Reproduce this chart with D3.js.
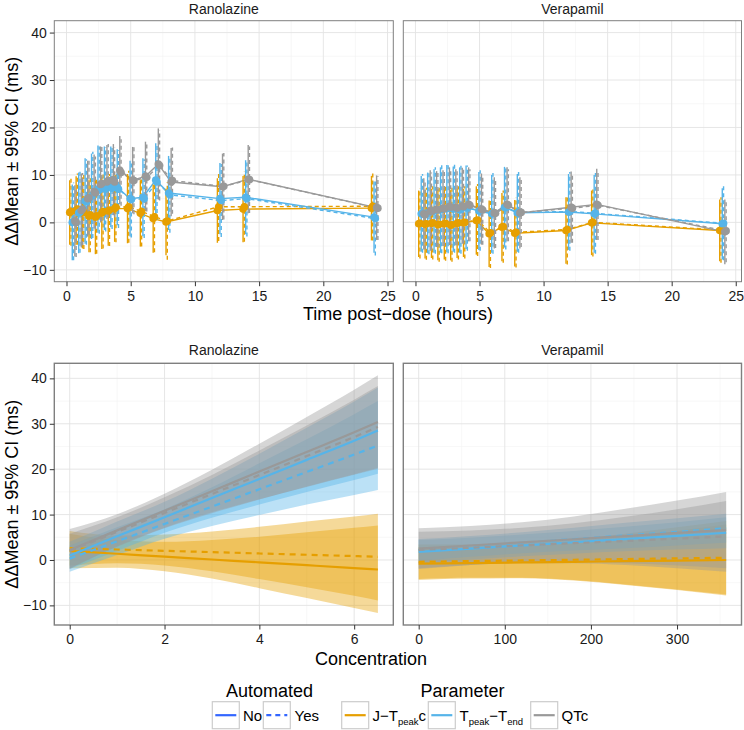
<!DOCTYPE html>
<html><head><meta charset="utf-8">
<script src="https://cdn.jsdelivr.net/npm/d3@7"></script>
<style>body{margin:0;background:#fff} svg text{font-family:"Liberation Sans",Arial,Helvetica,sans-serif}</style>
</head><body><svg id="c" width="744" height="730"></svg>
<script>
// ---------- DATA ----------
const drugs = ["Ranolazine", "Verapamil"];
const params = ["J-Tpeakc", "Tpeak-Tend", "QTc"];
const automatedLevels = ["No", "Yes"];
const paramColors = ["#E69F00", "#56B4E9", "#999999"];
const automatedColor = "#3366FF";
const times = [0.5, 1, 1.5, 2, 2.5, 3, 3.5, 4, 5, 6, 7, 8, 12, 14, 24];
const timeTicks = [0, 5, 10, 15, 20, 25];
const yTicks = [-10, 0, 10, 20, 30, 40];
const topYLimits = [-10, 40];
const concTicksRan = [0, 2, 4, 6];
const concTicksVer = [0, 100, 200, 300];

// time course: mean and 95% CI half-width (ms)
const ranJNoMean   = [2.1, 2.5, 2.0, 1.3, 1.1, 2.0, 2.4, 2.9, 2.9, 1.9, 0.8, 0.1, 2.5, 2.8, 3.0];
const ranJNoCI     = [6.8, 7.2, 7.5, 7.6, 7.8, 7.6, 7.3, 7.0, 7.3, 7.0, 7.2, 7.0, 6.8, 7.0, 6.8];
const ranJYesMean  = [2.3, 2.8, 2.2, 1.6, 1.4, 2.3, 2.6, 3.2, 3.3, 2.3, 1.2, 0.3, 3.3, 3.3, 3.4];
const ranJYesCI    = [7.2, 7.5, 7.8, 7.9, 8.0, 7.8, 7.6, 7.4, 7.6, 7.4, 7.5, 8.2, 7.2, 7.4, 7.2];
const ranTpNoMean  = [0.0, 2.0, 4.5, 5.5, 7.0, 7.2, 7.5, 7.4, 5.0, 5.3, 8.9, 6.2, 5.0, 5.3, 1.1];
const ranTpNoCI    = [8.0, 8.5, 9.0, 9.0, 9.2, 8.8, 8.5, 8.0, 8.0, 8.2, 7.8, 7.8, 7.5, 7.8, 7.5];
const ranTpYesMean = [0.2, 2.2, 4.3, 5.8, 6.8, 7.0, 7.2, 7.0, 4.8, 5.0, 8.5, 5.8, 4.6, 5.0, 0.8];
const ranTpYesCI   = [8.2, 8.6, 9.0, 9.1, 9.2, 8.9, 8.6, 8.2, 8.0, 8.3, 8.0, 8.0, 7.7, 8.0, 7.8];
const ranQTcNoMean = [0.3, 2.5, 5.0, 6.5, 8.0, 8.5, 9.0, 11.0, 8.9, 9.7, 12.3, 8.5, 7.5, 9.1, 3.1];
const ranQTcNoCI   = [7.5, 7.8, 8.0, 7.8, 8.0, 7.8, 7.5, 7.2, 7.0, 7.3, 7.5, 7.2, 7.0, 7.2, 6.8];
const ranQTcYesMean= [0.0, 2.8, 5.2, 6.2, 8.2, 8.8, 8.5, 10.5, 8.8, 9.5, 12.0, 8.8, 7.6, 9.0, 3.0];
const ranQTcYesCI  = [7.3, 7.6, 7.8, 7.7, 7.9, 7.7, 7.4, 7.0, 7.1, 7.2, 7.4, 7.0, 7.0, 7.0, 6.7];

const verJNoMean   = [-0.3, -0.4, -0.2, -0.5, -0.3, -0.6, -0.2, -0.1, 0.4, -2.4, -1.0, -2.3, -1.7, -0.1, -1.7];
const verJNoCI     = [7.0, 7.2, 7.3, 7.5, 7.5, 7.4, 7.3, 7.2, 7.2, 7.0, 7.2, 7.0, 7.0, 6.8, 6.5];
const verJYesMean  = [-0.2, -0.3, -0.1, -0.4, -0.2, -0.5, -0.1, 0.0, 0.5, -2.2, -0.9, -2.1, -1.5, 0.0, -1.6];
const verJYesCI    = [7.4, 7.6, 7.7, 7.9, 7.9, 7.8, 7.7, 7.6, 7.6, 7.4, 7.6, 7.4, 7.4, 7.2, 6.9];
const verTpNoMean  = [1.8, 2.0, 2.4, 2.6, 2.9, 2.8, 2.6, 3.2, 2.4, 1.8, 3.2, 2.0, 2.2, 1.8, -0.3];
const verTpNoCI    = [8.0, 8.5, 8.8, 9.0, 9.2, 9.0, 9.0, 8.8, 8.2, 8.2, 8.5, 8.2, 8.0, 8.2, 7.5];
const verTpYesMean = [1.9, 2.1, 2.5, 2.8, 3.0, 2.9, 2.7, 3.0, 2.5, 1.9, 3.1, 2.1, 2.3, 1.9, -0.2];
const verTpYesCI   = [8.3, 8.8, 9.1, 9.3, 9.5, 9.3, 9.3, 9.0, 8.5, 8.5, 8.8, 8.5, 8.3, 8.5, 7.8];
const verQTcNoMean = [1.8, 2.5, 2.8, 3.0, 3.4, 3.2, 3.5, 3.8, 2.8, 2.0, 3.8, 2.0, 3.2, 3.8, -2.0];
const verQTcNoCI   = [7.5, 8.5, 8.0, 8.0, 8.2, 8.0, 8.0, 7.8, 7.5, 7.5, 7.8, 7.5, 7.5, 7.5, 6.8];
const verQTcYesMean= [1.6, 2.3, 2.6, 2.8, 3.2, 3.0, 3.3, 3.6, 2.6, 1.9, 3.6, 2.1, 3.0, 3.6, -1.8];
const verQTcYesCI  = [7.3, 8.2, 7.8, 7.8, 8.0, 7.8, 7.8, 7.6, 7.3, 7.3, 7.6, 7.3, 7.3, 7.3, 6.6];

// concentration-response fits with 95% CI bands
const concRan = [0, 1, 2, 3, 4, 5, 6, 6.5];
const ranJNoFit   = [2.0, 1.37, 0.74, 0.11, -0.52, -1.15, -1.78, -2.1];
const ranJNoLo    = [-1.8, -1.7, -2.5, -4.1, -6.2, -8.4, -10.6, -11.7];
const ranJNoHi    = [5.8, 4.4, 4.0, 4.4, 5.1, 6.1, 7.1, 7.6];
const ranJYesFit  = [2.6, 2.31, 2.02, 1.73, 1.44, 1.15, 0.86, 0.7];
const ranJYesLo   = [-1.2, -0.7, -1.2, -2.5, -4.2, -6.0, -7.9, -8.9];
const ranJYesHi   = [6.4, 5.4, 5.6, 6.3, 7.3, 8.5, 9.6, 10.2];
const ranTpNoFit  = [1.0, 5.21, 9.42, 13.63, 17.84, 22.05, 26.26, 28.5];
const ranTpNoLo   = [-2.0, 2.0, 6.0, 9.3, 12.2, 15.0, 17.6, 19.0];
const ranTpNoHi   = [4.0, 8.5, 12.8, 17.9, 23.4, 29.1, 34.9, 38.0];
const ranTpYesFit = [0.3, 4.12, 7.94, 11.76, 15.58, 19.4, 23.22, 25.2];
const ranTpYesLo  = [-2.6, 1.1, 4.7, 7.5, 9.9, 12.2, 14.3, 15.4];
const ranTpYesHi  = [3.2, 7.2, 11.2, 16.0, 21.3, 26.6, 32.1, 35.0];
const ranQTcNoFit = [2.2, 6.52, 10.84, 15.16, 19.48, 23.8, 28.12, 30.4];
const ranQTcNoLo  = [-2.0, 3.0, 7.1, 10.5, 13.4, 16.1, 18.8, 20.1];
const ranQTcNoHi  = [6.8, 10.1, 14.6, 19.9, 25.6, 31.5, 37.5, 40.7];
const ranQTcYesFit= [2.0, 6.18, 10.36, 14.54, 18.72, 22.9, 27.08, 29.3];
const ranQTcYesLo = [-1.8, 2.9, 7.0, 10.3, 13.3, 16.2, 18.9, 20.3];
const ranQTcYesHi = [5.8, 9.4, 13.8, 18.7, 24.1, 29.6, 35.3, 38.3];

const concVer = [0, 60, 120, 180, 240, 300, 357];
const verJNoFit   = [-0.8, -0.67, -0.53, -0.4, -0.26, -0.13, 0.0];
const verJNoLo    = [-4.4, -4.1, -4.0, -4.5, -5.5, -6.6, -7.8];
const verJNoHi    = [2.8, 2.7, 3.0, 3.7, 4.9, 6.4, 7.8];
const verJYesFit  = [-0.4, -0.25, -0.1, 0.05, 0.2, 0.35, 0.5];
const verJYesLo   = [-4.2, -3.9, -3.9, -4.4, -5.4, -6.5, -7.6];
const verJYesHi   = [3.4, 3.4, 3.7, 4.5, 5.8, 7.2, 8.6];
const verTpNoFit  = [1.8, 2.5, 3.2, 3.9, 4.6, 5.3, 6.0];
const verTpNoLo   = [-0.8, 0.1, 0.8, 1.4, 1.9, 2.3, 2.6];
const verTpNoHi   = [4.4, 4.9, 5.6, 6.4, 7.3, 8.3, 9.4];
const verTpYesFit = [2.2, 3.0, 3.8, 4.6, 5.4, 6.2, 7.0];
const verTpYesLo  = [-0.2, 0.7, 1.5, 2.1, 2.6, 3.2, 3.8];
const verTpYesHi  = [4.6, 5.3, 6.1, 7.1, 8.2, 9.2, 10.2];
const verQTcNoFit = [2.5, 3.19, 3.88, 4.57, 5.26, 5.95, 6.6];
const verQTcNoLo  = [-2.0, -1.1, -0.5, -0.4, -0.7, -1.2, -1.8];
const verQTcNoHi  = [7.0, 7.5, 8.3, 9.6, 11.3, 13.1, 15.0];
const verQTcYesFit= [2.2, 2.7, 3.2, 3.7, 4.2, 4.7, 5.2];
const verQTcYesLo = [-1.8, -1.1, -0.7, -0.7, -1.1, -1.8, -2.6];
const verQTcYesHi = [6.2, 6.5, 7.1, 8.1, 9.5, 11.2, 13.0];

// ---------- assemble ----------
const timeSeries = [
  [ // Ranolazine
    {p:0,a:0,m:ranJNoMean,ci:ranJNoCI},{p:0,a:1,m:ranJYesMean,ci:ranJYesCI},
    {p:1,a:0,m:ranTpNoMean,ci:ranTpNoCI},{p:1,a:1,m:ranTpYesMean,ci:ranTpYesCI},
    {p:2,a:0,m:ranQTcNoMean,ci:ranQTcNoCI},{p:2,a:1,m:ranQTcYesMean,ci:ranQTcYesCI}],
  [ // Verapamil
    {p:0,a:0,m:verJNoMean,ci:verJNoCI},{p:0,a:1,m:verJYesMean,ci:verJYesCI},
    {p:1,a:0,m:verTpNoMean,ci:verTpNoCI},{p:1,a:1,m:verTpYesMean,ci:verTpYesCI},
    {p:2,a:0,m:verQTcNoMean,ci:verQTcNoCI},{p:2,a:1,m:verQTcYesMean,ci:verQTcYesCI}]
];
const fitSeries = [
  {x:concRan, s:[
    {p:0,a:0,f:ranJNoFit,lo:ranJNoLo,hi:ranJNoHi},{p:0,a:1,f:ranJYesFit,lo:ranJYesLo,hi:ranJYesHi},
    {p:1,a:0,f:ranTpNoFit,lo:ranTpNoLo,hi:ranTpNoHi},{p:1,a:1,f:ranTpYesFit,lo:ranTpYesLo,hi:ranTpYesHi},
    {p:2,a:0,f:ranQTcNoFit,lo:ranQTcNoLo,hi:ranQTcNoHi},{p:2,a:1,f:ranQTcYesFit,lo:ranQTcYesLo,hi:ranQTcYesHi}]},
  {x:concVer, s:[
    {p:0,a:0,f:verJNoFit,lo:verJNoLo,hi:verJNoHi},{p:0,a:1,f:verJYesFit,lo:verJYesLo,hi:verJYesHi},
    {p:1,a:0,f:verTpNoFit,lo:verTpNoLo,hi:verTpNoHi},{p:1,a:1,f:verTpYesFit,lo:verTpYesLo,hi:verTpYesHi},
    {p:2,a:0,f:verQTcNoFit,lo:verQTcNoLo,hi:verQTcNoHi},{p:2,a:1,f:verQTcYesFit,lo:verQTcYesLo,hi:verQTcYesHi}]}
];
const concTicks = [concTicksRan, concTicksVer];

// ---------- layout ----------
const FONT = '"Liberation Sans", Arial, Helvetica, sans-serif';
const svg = d3.select("#c");
const panelX = [[54.3, 393.3], [403.3, 741.5]];
const topY = [20.7, 281.7];
const botY = [363.3, 625];
const dodgeW = 0.6;
const expand = (e) => { const r = e[1] - e[0]; return [e[0] - 0.05 * r, e[1] + 0.05 * r]; };
const dodge = (p, a) => ((p * 2 + a) - 2.5) * dodgeW / 6;
const dashTop = "4,3", dashBot = "6,5";

const yTop = d3.scaleLinear().domain(expand(topYLimits)).range([topY[1], topY[0]]);
const allFit = [];
fitSeries.forEach(fs => fs.s.forEach(s => { allFit.push(...s.lo, ...s.hi); }));
const yBot = d3.scaleLinear().domain(expand(d3.extent(allFit))).range([botY[1], botY[0]]);

function minorOf(ticks, domain) {
  const step = ticks[1] - ticks[0];
  const out = [];
  for (let v = ticks[0] - step / 2; v <= ticks[ticks.length - 1] + step / 2 + 1e-9; v += step) {
    if (v >= domain[0] && v <= domain[1]) out.push(v);
  }
  return out;
}

function panelFrame(g, x, y, xt, yt, px, py) {
  g.append("rect").attr("x", px[0]).attr("y", py[0]).attr("width", px[1] - px[0]).attr("height", py[1] - py[0]).attr("fill", "#fff");
  const gx = g.append("g");
  minorOf(xt, x.domain()).forEach(v => gx.append("line").attr("x1", x(v)).attr("x2", x(v)).attr("y1", py[0]).attr("y2", py[1]).attr("stroke", "#f2f2f2").attr("stroke-width", 0.6));
  minorOf(yt, y.domain()).forEach(v => gx.append("line").attr("y1", y(v)).attr("y2", y(v)).attr("x1", px[0]).attr("x2", px[1]).attr("stroke", "#f2f2f2").attr("stroke-width", 0.6));
  xt.forEach(v => gx.append("line").attr("x1", x(v)).attr("x2", x(v)).attr("y1", py[0]).attr("y2", py[1]).attr("stroke", "#e3e3e3").attr("stroke-width", 0.9));
  yt.forEach(v => gx.append("line").attr("y1", y(v)).attr("y2", y(v)).attr("x1", px[0]).attr("x2", px[1]).attr("stroke", "#e3e3e3").attr("stroke-width", 0.9));
}
function panelBorder(g, px, py, w) {
  g.append("rect").attr("x", px[0]).attr("y", py[0]).attr("width", px[1] - px[0]).attr("height", py[1] - py[0])
    .attr("fill", "none").attr("stroke", "#7f7f7f").attr("stroke-width", w);
}
function styleAxis(ax) {
  ax.select(".domain").remove();
  ax.attr("font-size", 14).attr("font-family", FONT);
  ax.selectAll("line").attr("stroke", "#333").attr("stroke-width", 1);
  ax.selectAll("text").attr("fill", "#1a1a1a");
}
function xAxis(g, x, ticks, y) {
  const ax = g.append("g").attr("transform", `translate(0,${y})`)
    .call(d3.axisBottom(x).tickValues(ticks).tickSize(4.5).tickPadding(5).tickFormat(d3.format("d")));
  styleAxis(ax);
}
function yAxis(g, y, ticks, x) {
  const ax = g.append("g").attr("transform", `translate(${x},0)`)
    .call(d3.axisLeft(y).tickValues(ticks).tickSize(4.5).tickPadding(3).tickFormat(d3.format("d")));
  styleAxis(ax);
}
function strip(g, text, px, yb) {
  g.append("text").attr("x", (px[0] + px[1]) / 2).attr("y", yb).attr("text-anchor", "middle")
    .attr("font-size", 14).attr("fill", "#1a1a1a").text(text);
}

// ---------- top: time course ----------
drugs.forEach((drug, d) => {
  const px = panelX[d];
  const g = svg.append("g");
  const series = timeSeries[d];
  const allX = [];
  series.forEach(s => times.forEach(t => allX.push(t + dodge(s.p, s.a))));
  const x = d3.scaleLinear().domain(expand(d3.extent(allX))).range(px);
  panelFrame(g, x, yTop, timeTicks, yTicks, px, topY);
  const data = series.map(s => ({ ...s, pts: times.map((t, i) => ({ x: t + dodge(s.p, s.a), m: s.m[i], lo: s.m[i] - s.ci[i], hi: s.m[i] + s.ci[i] })) }));
  const line = d3.line().x(p => x(p.x)).y(p => yTop(p.m));
  data.forEach(s => {
    g.append("path").attr("d", line(s.pts)).attr("fill", "none").attr("stroke", paramColors[s.p])
      .attr("stroke-width", 1.4).attr("stroke-dasharray", s.a ? dashTop : null);
  });
  data.forEach(s => {
    g.append("g").selectAll("line").data(s.pts).join("line")
      .attr("x1", p => x(p.x)).attr("x2", p => x(p.x)).attr("y1", p => yTop(p.lo)).attr("y2", p => yTop(p.hi))
      .attr("stroke", paramColors[s.p]).attr("stroke-width", 1.4).attr("stroke-dasharray", s.a ? dashTop : null);
  });
  data.forEach(s => {
    g.append("g").selectAll("circle").data(s.pts).join("circle")
      .attr("cx", p => x(p.x)).attr("cy", p => yTop(p.m)).attr("r", 3.8).attr("fill", paramColors[s.p]);
  });
  panelBorder(g, px, topY, 1);
  xAxis(g, x, timeTicks, topY[1]);
  if (d === 0) yAxis(g, yTop, yTicks, px[0]);
  strip(g, drug, px, 13.5);
});

// ---------- bottom: concentration-response ----------
drugs.forEach((drug, d) => {
  const px = panelX[d];
  const g = svg.append("g");
  const fs = fitSeries[d];
  const x = d3.scaleLinear().domain(expand(d3.extent(fs.x))).range(px);
  panelFrame(g, x, yBot, concTicks[d], yTicks, px, botY);
  const area = d3.area().curve(d3.curveMonotoneX).x(p => x(p.x)).y0(p => yBot(p.lo)).y1(p => yBot(p.hi));
  const line = d3.line().curve(d3.curveMonotoneX).x(p => x(p.x)).y(p => yBot(p.f));
  const data = fs.s.map(s => ({ ...s, pts: fs.x.map((c, i) => ({ x: c, f: s.f[i], lo: s.lo[i], hi: s.hi[i] })) }));
  data.forEach(s => {
    g.append("path").attr("d", area(s.pts)).attr("fill", paramColors[s.p]).attr("fill-opacity", 0.4);
  });
  data.forEach(s => {
    g.append("path").attr("d", line(s.pts)).attr("fill", "none").attr("stroke", paramColors[s.p])
      .attr("stroke-width", 2.2).attr("stroke-dasharray", s.a ? dashBot : null);
  });
  panelBorder(g, px, botY, 1.4);
  xAxis(g, x, concTicks[d], botY[1]);
  if (d === 0) yAxis(g, yBot, yTicks, px[0]);
  strip(g, drug, px, 355);
});

// ---------- axis titles ----------
const yTitle = "ΔΔMean ± 95% CI (ms)";
[[topY], [botY]].forEach(([py]) => {
  const cy = (py[0] + py[1]) / 2;
  svg.append("text").attr("transform", `translate(18,${cy}) rotate(-90)`).attr("text-anchor", "middle")
    .attr("font-size", 18).attr("fill", "#000").text(yTitle);
});
svg.append("text").attr("x", 398).attr("y", 320).attr("text-anchor", "middle").attr("font-size", 18).text("Time post\u2212dose (hours)");
svg.append("text").attr("x", 371).attr("y", 665).attr("text-anchor", "middle").attr("font-size", 18).text("Concentration");

// ---------- legend ----------
const lg = svg.append("g");
const keyY = 701.7, keyS = 27, labY = 720.7;
function key(x0, color, dashed) {
  lg.append("rect").attr("x", x0).attr("y", keyY).attr("width", keyS).attr("height", keyS)
    .attr("fill", "#fff").attr("stroke", "#cccccc").attr("stroke-width", 1.2);
  lg.append("line").attr("x1", x0 + 3).attr("x2", x0 + keyS - 3).attr("y1", keyY + keyS / 2).attr("y2", keyY + keyS / 2)
    .attr("stroke", color).attr("stroke-width", 2.2).attr("stroke-dasharray", dashed ? "5,4" : null);
}
lg.append("text").attr("x", 269.5).attr("y", 696.5).attr("text-anchor", "middle").attr("font-size", 18).text("Automated");
lg.append("text").attr("x", 462.5).attr("y", 696.5).attr("text-anchor", "middle").attr("font-size", 18).text("Parameter");
key(212.3, automatedColor, false);
lg.append("text").attr("x", 243).attr("y", labY).attr("font-size", 15).text(automatedLevels[0]);
key(263.3, automatedColor, true);
lg.append("text").attr("x", 294.5).attr("y", labY).attr("font-size", 15).text(automatedLevels[1]);
key(341.7, paramColors[0], false);
const t1 = lg.append("text").attr("x", 372.5).attr("y", labY).attr("font-size", 15);
t1.append("tspan").text("J\u2212T");
t1.append("tspan").attr("font-size", 9.5).attr("dy", 4).text("peak");
t1.append("tspan").attr("dy", -4).text("c");
key(428.3, paramColors[1], false);
const t2 = lg.append("text").attr("x", 459.5).attr("y", labY).attr("font-size", 15);
t2.append("tspan").text("T");
t2.append("tspan").attr("font-size", 9.5).attr("dy", 4).text("peak");
t2.append("tspan").attr("dy", -4).text("\u2212T");
t2.append("tspan").attr("font-size", 9.5).attr("dy", 4).text("end");
key(530.7, paramColors[2], false);
lg.append("text").attr("x", 561.5).attr("y", labY).attr("font-size", 15).text("QTc");
</script></body></html>
